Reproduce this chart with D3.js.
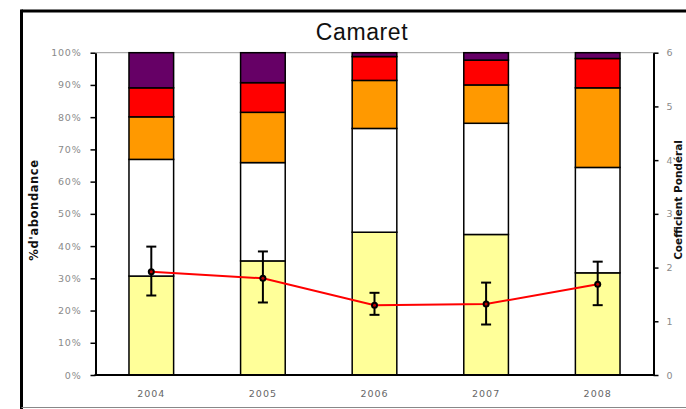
<!DOCTYPE html>
<html><head><meta charset="utf-8">
<script src="https://cdn.jsdelivr.net/npm/d3@7"></script>
<style>body{margin:0;background:#fff}svg{display:block}</style>
</head><body><svg id="c" width="686" height="409"></svg>
<script>
const years = ["2004","2005","2006","2007","2008"];
// shares (%) per class, bottom to top
const yellow = [30.7, 35.4, 44.3, 43.6, 31.7];
const white  = [36.2, 30.5, 32.2, 34.5, 32.7];
const orange = [13.2, 15.6, 14.9, 11.9, 24.7];
const red    = [9.0, 9.2, 7.4, 7.7, 9.1];
const purple = [10.9, 9.3, 1.2, 2.3, 1.8];
const coefMean = [1.92, 1.80, 1.30, 1.32, 1.69];
const coefHigh = [2.39, 2.30, 1.53, 1.72, 2.11];
const coefLow  = [1.48, 1.35, 1.12, 0.94, 1.30];
const leftTicks = [0,10,20,30,40,50,60,70,80,90,100];
const rightTicks = [0,1,2,3,4,5,6];
const seriesNames = ["yellow","white","orange","red","purple"];
const seriesColors = ["#ffff99","#ffffff","#ff9900","#ff0000","#660066"];

const svg = d3.select("#c");
const L = 95.5, R = 653.5, T = 52.7, B = 375;
const x = d3.scaleBand().domain(years).range([L, R]).paddingInner(0.6).paddingOuter(0.3);
const y = d3.scaleLinear().domain([0,100]).range([B, T]);
const y2 = d3.scaleLinear().domain([0,6]).range([B, T]);

// outer frame
svg.append("line").attr("x1",21.5).attr("x2",686).attr("y1",11).attr("y2",11).attr("stroke","#000").attr("stroke-width",3);
svg.append("line").attr("x1",21.5).attr("x2",21.5).attr("y1",9.5).attr("y2",409).attr("stroke","#000").attr("stroke-width",3);
svg.append("line").attr("x1",21.5).attr("x2",686).attr("y1",407.5).attr("y2",407.5).attr("stroke","#888").attr("stroke-width",1);

// title
svg.append("text").attr("x",362).attr("y",39.5).attr("text-anchor","middle")
  .attr("font-family","Liberation Sans, Arial, sans-serif").attr("font-size",23).attr("letter-spacing",0.6)
  .attr("fill","#111").text("Camaret");

// plot area top border
svg.append("line").attr("x1",L).attr("x2",R).attr("y1",T).attr("y2",T).attr("stroke","#999").attr("stroke-width",1);

// stacked bars
const table = years.map((yr,i)=>({year:yr, yellow:yellow[i], white:white[i], orange:orange[i], red:red[i], purple:purple[i]}));
const stack = d3.stack().keys(seriesNames)(table);
stack.forEach((s,k)=>{
  svg.append("g").selectAll("rect").data(s).join("rect")
    .attr("x",d=>x(d.data.year)).attr("width",x.bandwidth())
    .attr("y",d=>y(Math.min(100,d[1]))).attr("height",d=>y(d[0])-y(Math.min(100,d[1])))
    .attr("fill",seriesColors[k]).attr("stroke","#000").attr("stroke-width",1.5);
});

// axes
const fontTick = "DejaVu Sans, Verdana, sans-serif";
const ax = svg.append("g").attr("transform",`translate(${L},0)`)
  .call(d3.axisLeft(y).tickValues(leftTicks).tickFormat(d=>d+"%").tickSize(5).tickSizeOuter(0).tickPadding(9));
ax.select(".domain").attr("stroke-width",2);
ax.selectAll(".tick line").attr("stroke-width",1.5);
ax.selectAll("text").attr("font-family",fontTick).attr("font-size",9.5).attr("fill","#8a8a8a").attr("letter-spacing",0.8);

const ax2 = svg.append("g").attr("transform",`translate(${R},0)`)
  .call(d3.axisRight(y2).tickValues(rightTicks).tickFormat(d3.format("d")).tickSize(5).tickSizeOuter(0).tickPadding(8));
ax2.select(".domain").attr("stroke-width",2);
ax2.selectAll(".tick line").attr("stroke-width",1.5);
ax2.selectAll("text").attr("font-family",fontTick).attr("font-size",9.5).attr("fill","#8a8a8a");

svg.append("line").attr("x1",L-1).attr("x2",R+1).attr("y1",B).attr("y2",B).attr("stroke","#000").attr("stroke-width",2);

const ax3 = svg.append("g").attr("transform",`translate(0,${B})`)
  .call(d3.axisBottom(x).tickSize(0).tickPadding(15));
ax3.select(".domain").remove();
ax3.selectAll("text").attr("font-family",fontTick).attr("font-size",9.5).attr("fill","#666").attr("letter-spacing",1);

// axis titles
svg.append("text").attr("transform","translate(38,210) rotate(-90)").attr("text-anchor","middle")
  .attr("font-family","DejaVu Sans, Verdana, sans-serif").attr("font-weight","bold").attr("font-size",11.5)
  .attr("letter-spacing",0.6).attr("fill","#111").text("%d'abondance");
svg.append("text").attr("transform","translate(682,200) rotate(-90)").attr("text-anchor","middle")
  .attr("font-family","DejaVu Sans, Verdana, sans-serif").attr("font-weight","bold").attr("font-size",10.5)
  .attr("fill","#111").text("Coefficient Pondéral");

// line
const cx = d => x(d)+x.bandwidth()/2;
svg.append("path").datum(years.map((yr,i)=>[cx(yr), y2(coefMean[i])]))
  .attr("d",d3.line()).attr("fill","none").attr("stroke","#ff0000").attr("stroke-width",2);

// error bars
const eb = svg.append("g");
years.forEach((yr,i)=>{
  const c = cx(yr);
  eb.append("line").attr("x1",c).attr("x2",c).attr("y1",y2(coefHigh[i])).attr("y2",y2(coefLow[i])).attr("stroke","#000").attr("stroke-width",2);
  [coefHigh[i],coefLow[i]].forEach(v=>eb.append("line").attr("x1",c-5).attr("x2",c+5).attr("y1",y2(v)).attr("y2",y2(v)).attr("stroke","#000").attr("stroke-width",2));
  eb.append("circle").attr("cx",c).attr("cy",y2(coefMean[i])).attr("r",3.5).attr("fill","#000");
  eb.append("circle").attr("cx",c).attr("cy",y2(coefMean[i])).attr("r",1.5).attr("fill","#c00000");
});
</script></body></html>
